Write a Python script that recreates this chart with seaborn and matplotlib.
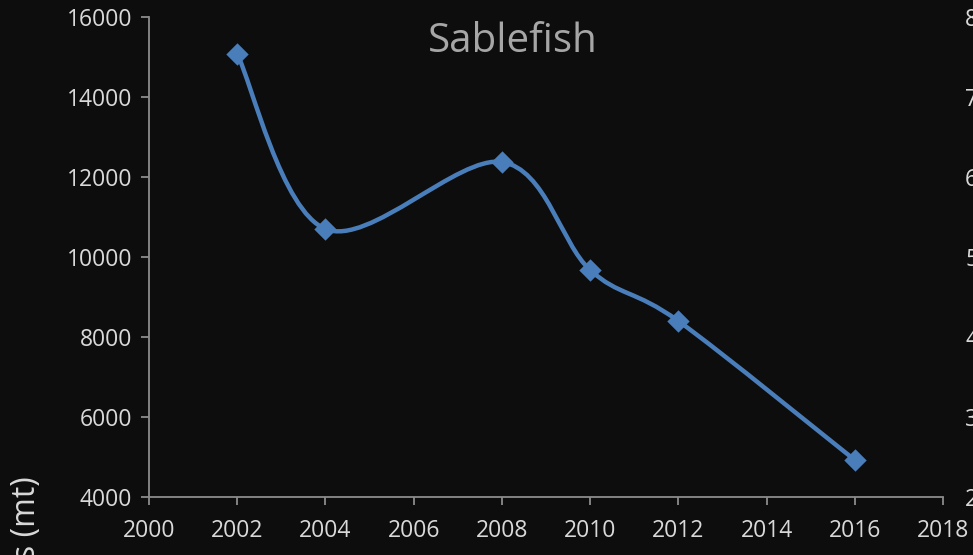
import numpy as np
import pandas as pd
import matplotlib
matplotlib.use("Agg")
import matplotlib.pyplot as plt
from matplotlib.path import Path
from matplotlib.patches import PathPatch
import seaborn as sns

years = [2002, 2004, 2008, 2010, 2012, 2016]
values = [15075, 10700, 12375, 9675, 8400, 4925]
x_ticks = [2000, 2002, 2004, 2006, 2008, 2010, 2012, 2014, 2016, 2018]
y_ticks = [4000, 6000, 8000, 10000, 12000, 14000, 16000]
right_ticks = [20, 30, 40, 50, 60, 70, 80]
title = "Sablefish"
ylabel_visible = "s (mt)"

BG = "#0d0d0d"
LINE = "#4a7ebb"
AX = "#8c8c8c"
TXT = "#d9d9d9"
TITLE = "#a6a6a6"

sns.set_theme(style="dark")
plt.rcParams["font.family"] = ["Open Sans", "DejaVu Sans"]

fig = plt.figure(figsize=(9.73, 5.55), dpi=100, facecolor=BG)
ax = fig.add_axes([149/973, 1-497/555, (943-149)/973, (497-17)/555])
ax.set_facecolor(BG)

df = pd.DataFrame({"year": years, "value": values})

# Smooth (Excel-like) curve through the data points using cubic Bezier segments
pts = list(zip(years, values))
verts = [pts[0]]
codes = [Path.MOVETO]
n = len(pts)
for i in range(n - 1):
    p0 = pts[i - 1] if i > 0 else pts[i]
    p1 = pts[i]
    p2 = pts[i + 1]
    p3 = pts[i + 2] if i + 2 < n else pts[i + 1]
    c1 = (p1[0] + (p2[0] - p0[0]) / 6, p1[1] + (p2[1] - p0[1]) / 6)
    c2 = (p2[0] - (p3[0] - p1[0]) / 6, p2[1] - (p3[1] - p1[1]) / 6)
    verts += [c1, c2, p2]
    codes += [Path.CURVE4] * 3
ax.add_patch(PathPatch(Path(verts, codes), facecolor="none", edgecolor=LINE,
                       lw=3.2, capstyle="round", joinstyle="round", zorder=3))

sns.scatterplot(data=df, x="year", y="value", marker="D", s=130, color=LINE,
                edgecolor=LINE, linewidth=0, ax=ax, zorder=4)

ax.set_xlim(2000, 2018)
ax.set_ylim(4000, 16000)
ax.set_xticks(x_ticks)
ax.set_yticks(y_ticks)
ax.set_xticklabels([str(v) for v in x_ticks])
ax.set_yticklabels([str(v) for v in y_ticks])
ax.set_xlabel("")
ax.set_ylabel("")
ax.grid(False)

for s in ["top", "right"]:
    ax.spines[s].set_visible(False)
for s in ["left", "bottom"]:
    ax.spines[s].set_visible(True)
    ax.spines[s].set_color(AX)
    ax.spines[s].set_linewidth(1.3)

ax.tick_params(axis="both", which="major", direction="out", length=6, width=1.3,
               color=AX, labelcolor=TXT, labelsize=16.5, bottom=True, left=True)
ax.tick_params(axis="x", pad=10)
ax.tick_params(axis="y", pad=6)

ax2 = ax.twinx()
ax2.set_ylim(20, 80)
ax2.set_yticks(right_ticks)
ax2.set_yticklabels([str(v) for v in right_ticks])
ax2.tick_params(axis="y", length=0, pad=16, labelcolor=TXT, labelsize=16.5)
for s in ax2.spines.values():
    s.set_visible(False)
ax2.grid(False)

ax.text((513-149)/794, 1 - (42-17)/480, title, transform=ax.transAxes,
        ha="center", va="center", fontsize=29, color=TITLE)

fig.text(27/973, 1 - 560/555, ylabel_visible, rotation=90, ha="center", va="bottom",
         fontsize=23, color=TXT)

fig.savefig("out.png", dpi=100, facecolor=BG)
